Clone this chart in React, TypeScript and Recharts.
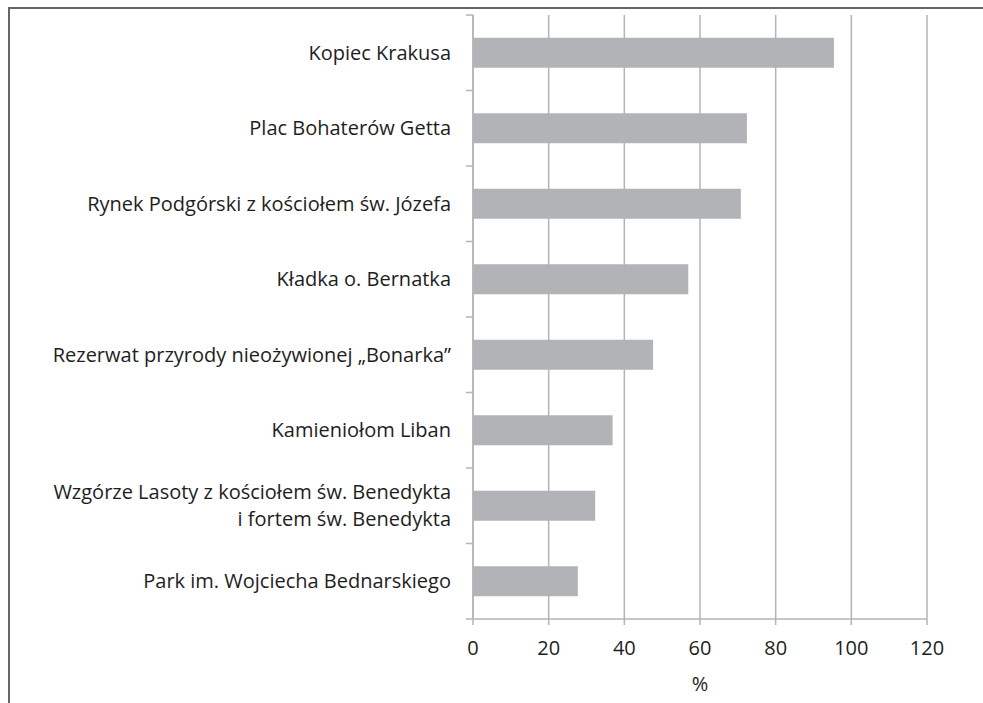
import React from 'react';
import { BarChart, Bar, XAxis, YAxis, CartesianGrid, Label } from 'recharts';

// attractions and share of answers (%)
const places = [
  'Kopiec Krakusa',
  'Plac Bohaterów Getta',
  'Rynek Podgórski z kościołem św. Józefa',
  'Kładka o. Bernatka',
  'Rezerwat przyrody nieożywionej „Bonarka”',
  'Kamieniołom Liban',
  'Wzgórze Lasoty z kościołem św. Benedykta\ni fortem św. Benedykta',
  'Park im. Wojciecha Bednarskiego',
];
const shares = [95.4, 72.4, 70.8, 56.9, 47.6, 36.9, 32.3, 27.7];
const xTicks = [0, 20, 40, 60, 80, 100, 120];

const data = places.map((name, i) => ({ name, value: shares[i] }));

const W = 983;
const H = 703;
const TOP = 15;
const Y_AXIS_W = 473;
const RIGHT = 56;
const X_AXIS_H = 84;
const BAND = (H - TOP - X_AXIS_H) / places.length;

const FONT = '"Open Sans", sans-serif';
const FS = 20;
const GRID = '#b4b4b6';
const INK = '#1e1e1e';

function PlaceTick(props: any) {
  const { y, payload, index } = props;
  const lines = String(payload.value).split('\n');
  const lh = 27;
  const startY = y - ((lines.length - 1) * lh) / 2;
  return (
    <g>
      <line x1={Y_AXIS_W - 7} x2={Y_AXIS_W} y1={y - BAND / 2} y2={y - BAND / 2} stroke={GRID} strokeWidth={1.5} />
      {index === places.length - 1 && (
        <line x1={Y_AXIS_W - 7} x2={Y_AXIS_W} y1={y + BAND / 2} y2={y + BAND / 2} stroke={GRID} strokeWidth={1.5} />
      )}
      <text textAnchor="end" fontFamily={FONT} fontSize={FS} fill={INK}>
        {lines.map((l, i) => (
          <tspan key={i} x={Y_AXIS_W - 22} y={startY + i * lh} dy="0.36em">
            {l}
          </tspan>
        ))}
      </text>
    </g>
  );
}

export default function App() {
  return (
    <div style={{ position: 'fixed', left: 0, top: 0, width: W, height: H, overflow: 'hidden', background: '#fff' }}>
      <div
        style={{
          position: 'absolute',
          left: 8,
          top: 7,
          width: 1200,
          height: 1000,
          borderLeft: '2.5px solid #666',
          borderTop: '2.5px solid #666',
        }}
      />
      <div style={{ position: 'absolute', left: 0, top: 0 }}>
        <BarChart
          width={W}
          height={H}
          data={data}
          layout="vertical"
          margin={{ top: TOP, right: RIGHT, bottom: 0, left: 0 }}
          barCategoryGap="30%"
        >
          <CartesianGrid horizontal={false} stroke={GRID} strokeWidth={1.5} />
          <XAxis
            type="number"
            domain={[0, 120]}
            ticks={xTicks}
            height={X_AXIS_H}
            tickSize={6}
            tickMargin={16}
            tick={{ fontFamily: FONT, fontSize: FS, fill: INK }}
            stroke={GRID}
            strokeWidth={1.5}
          >
            <Label value="%" position="insideBottom" offset={12} style={{ fontFamily: FONT, fontSize: FS, fill: INK }} />
          </XAxis>
          <YAxis
            type="category"
            dataKey="name"
            width={Y_AXIS_W}
            tickLine={false}
            tick={<PlaceTick />}
            stroke={GRID}
            strokeWidth={1.5}
            interval={0}
          />
          <Bar dataKey="value" fill="#b2b3b7" isAnimationActive={false} />
        </BarChart>
      </div>
    </div>
  );
}
